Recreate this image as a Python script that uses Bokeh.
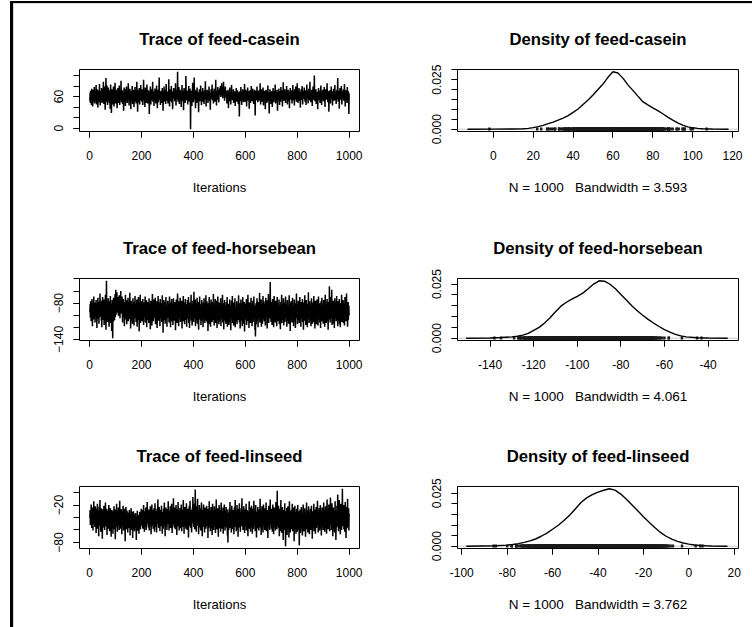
from bokeh.plotting import figure
from bokeh.layouts import gridplot, column
from bokeh.models import FixedTicker, Span, Range1d, PrintfTickFormatter
from bokeh.embed import file_html
from bokeh.resources import INLINE

# ---------------------------------------------------------------- data
# MCMC draws (1000 iterations) for the three feed contrasts
casein = [
    52, 67, 48, 71, 59, 63, 44, 75, 58, 62, 69, 41, 55, 73, 61, 50, 66, 78, 57, 47, 64, 70, 53, 60, 82,
    58, 45, 68, 74, 51, 63, 39, 66, 57, 72, 61, 49, 84, 56, 64, 43, 70, 59, 67, 52, 76, 62, 48, 55, 69,
    73, 57, 88, 61, 46, 65, 54, 79, 60, 35, 67, 71, 95, 58, 50, 63, 81, 56, 44, 69, 62, 77, 53, 66, 59,
    48, 72, 64, 37, 58, 83, 55, 61, 29, 68, 52, 74, 60, 45, 66, 57, 79, 63, 41, 70, 54, 62, 86, 58, 47,
    65, 59, 73, 50, 61, 38, 67, 56, 76, 62, 48, 69, 55, 81, 60, 44, 64, 71, 53, 58, 90, 63, 49, 66, 57,
    72, 46, 61, 68, 54, 33, 63, 77, 58, 51, 67, 60, 42, 74, 56, 65, 79, 52, 62, 48, 70, 57, 64, 85, 55,
    61, 43, 69, 58, 75, 50, 66, 62, 36, 71, 57, 64, 53, 80, 59, 46, 68, 61, 73, 55, 40, 63, 67, 51, 78,
    60, 56, 70, 47, 65, 62, 88, 54, 59, 31, 66, 72, 57, 49, 63, 76, 58, 45, 68, 61, 53, 82, 64, 57, 70,
    50, 63, 74, 59, 44, 67, 56, 92, 61, 52, 69, 58, 40, 65, 77, 54, 62, 48, 71, 60, 83, 55, 66, 47, 63,
    58, 72, 51, 64, 27, 60, 69, 56, 79, 62, 45, 67, 59, 74, 53, 66, 61, 88, 50, 57, 70, 63, 42, 68, 56,
    64, 75, 52, 61, 47, 69, 58, 81, 63, 55, 38, 66, 60, 73, 49, 62, 57, 96, 65, 54, 70, 59, 44, 67, 61,
    53, 71, 62, 48, 76, 58, 65, 33, 60, 68, 55, 79, 63, 50, 66, 57, 72, 46, 61, 84, 59, 64, 52, 69, 57,
    63, 47, 70, 58, 93, 55, 62, 41, 67, 60, 74, 52, 65, 57, 80, 49, 61, 68, 54, 36, 64, 71, 59, 76, 62,
    56, 69, 51, 66, 60, 85, 58, 43, 72, 63, 55, 67, 61, 107, 64, 50, 70, 57, 78, 62, 46, 66, 59, 73, 54,
    61, 68, 40, 65, 58, 82, 63, 52, 71, 57, 64, 34, 60, 76, 55, 69, 62, 48, 74, 59, 99, 66, 53, 61, 70,
    57, 64, 45, 72, 60, 55, 80, 63, 50, 67, 58, 75, 62, -2, 66, 53, 71, 59, 42, 68, 61, 86, 56, 64, 49,
    69, 58, 96, 62, 54, 73, 60, 38, 66, 57, 71, 63, 48, 77, 59, 65, 52, 68, 61, 30, 64, 56, 74, 60, 51,
    67, 59, 81, 55, 63, 44, 70, 58, 66, 62, 76, 50, 61, 57, 69, 46, 64, 72, 55, 60, 89, 58, 65, 41, 68,
    62, 54, 73, 59, 66, 48, 71, 60, 57, 79, 63, 52, 67, 58, 35, 65, 61, 74, 56, 69, 62, 83, 53, 64, 59,
    70, 47, 66, 61, 75, 57, 63, 50, 68, 60, 92, 55, 64, 43, 71, 58, 66, 62, 78, 54, 67, 60, 49, 73, 63,
    69, 76, 64, 80, 71, 59, 74, 67, 85, 62, 70, 78, 57, 73, 66, 88, 63, 75, 68, 52, 72, 65, 79, 60, 70,
    64, 58, 71, 47, 66, 60, 55, 73, 62, 38, 68, 57, 64, 51, 77, 61, 56, 69, 45, 63, 59, 82, 54, 66, 60,
    53, 67, 61, 74, 48, 63, 58, 70, 56, 65, 42, 69, 60, 55, 76, 62, 50, 67, 59, 72, 57, 64, 46, 68, 61,
    55, 22, 63, 70, 51, 66, 59, 78, 57, 62, 44, 69, 60, 53, 74, 58, 65, 49, 71, 61, 56, 84, 62, 50, 67,
    59, 73, 54, 65, 41, 68, 61, 57, 77, 63, 52, 70, 58, 66, 37, 62, 55, 72, 60, 48, 67, 63, 80, 56, 64,
    51, 69, 60, 75, 57, 63, 46, 68, 61, 55, 73, 62, 24, 65, 58, 71, 53, 66, 60, 79, 56, 63, 49, 70, 59,
    64, 57, 72, 52, 67, 61, 85, 58, 45, 69, 63, 55, 74, 60, 50, 66, 59, 77, 62, 43, 68, 57, 64, 71, 54,
    61, 36, 66, 59, 73, 56, 63, 48, 70, 60, 55, 81, 62, 51, 67, 58, 28, 65, 61, 74, 53, 68, 59, 46, 64,
    70, 57, 62, 40, 67, 59, 76, 54, 63, 49, 71, 60, 66, 55, 83, 61, 47, 69, 58, 64, 52, 73, 60, 33, 66,
    59, 68, 53, 75, 62, 57, 44, 70, 61, 65, 50, 78, 58, 63, 55, 72, 60, 41, 67, 59, 87, 56, 64, 52, 69,
    61, 74, 57, 66, 48, 71, 63, 55, 80, 60, 67, 45, 64, 58, 73, 62, 51, 69, 59, 38, 66, 61, 76, 56, 63,
    68, 54, 72, 60, 47, 65, 58, 82, 62, 53, 70, 57, 64, 43, 74, 61, 66, 55, 79, 59, 63, 50, 68, 60, 85,
    57, 65, 48, 71, 62, 56, 76, 60, 52, 67, 63, 39, 69, 58, 74, 61, 54, 66, 80, 59, 45, 70, 63, 57, 68,
    62, 77, 55, 64, 50, 72, 60, 66, 44, 69, 58, 83, 63, 56, 71, 61, 47, 67, 59, 75, 53, 65, 62, 88, 57,
    64, 49, 70, 60, 56, 73, 62, 42, 68, 58, 79, 63, 54, 66, 61, 100, 59, 51, 71, 65, 57, 74, 46, 67, 60,
    55, 69, 62, 36, 66, 58, 76, 61, 53, 70, 59, 64, 48, 72, 60, 81, 57, 65, 44, 68, 62, 55, 73, 59, 66,
    51, 67, 61, 78, 56, 63, 40, 69, 58, 74, 62, 54, 66, 60, 85, 57, 64, 49, 71, 59, 65, 31, 68, 61, 56,
    72, 60, 47, 66, 62, 79, 55, 68, 58, 63, 43, 70, 61, 57, 75, 64, 52, 67, 59, 82, 60, 53, 69, 62, 46,
    65, 58, 73, 61, 55, 95, 63, 50, 68, 59, 71, 37, 64, 57, 76, 62, 54, 66, 60, 80, 58, 45, 70, 63, 56,
    67, 61, 74, 52, 65, 59, 84, 57, 63, 41, 69, 60, 72, 55, 66, 62, 48, 78, 59, 64, 53, 70, 61, 27, 66,
]

horsebean = [
    -95, -82, -104, -77, -91, -110, -86, -99, -73, -93, -118, -88, -80, -101, -94, -69, -107, -85, -97, -79, -112, -90, -84, -102, -75,
    -96, -87, -121, -81, -100, -92, -71, -106, -89, -83, -114, -78, -98, -91, -64, -103, -86, -95, -76, -109, -88, -120, -82, -94, -70,
    -99, -85, -108, -93, -74, -116, -90, -80, -102, -87, -66, -97, -124, -83, -43, -105, -92, -78, -111, -89, -96, -72, -101, -84, -119,
    -91, -77, -106, -95, -68, -113, -88, -100, -81, -126, -93, -75, -104, -138, -86, -97, -71, -110, -90, -82, -108, -94, -65, -103, -85,
    -58, -99, -79, -92, -62, -88, -74, -96, -83, -70, -101, -77, -89, -67, -94, -81, -105, -73, -86, -60, -97, -84, -76, -91, -69,
    -87, -112, -80, -95, -73, -103, -90, -84, -118, -78, -98, -92, -66, -107, -86, -100, -75, -115, -89, -81, -104, -94, -71, -110, -88,
    -97, -79, -106, -91, -63, -101, -85, -122, -93, -76, -109, -87, -99, -82, -114, -90, -72, -104, -96, -84, -117, -78, -100, -89, -68,
    -105, -92, -81, -111, -86, -98, -74, -119, -90, -83, -102, -95, -70, -108, -87, -127, -80, -97, -91, -66, -113, -85, -101, -77, -94,
    -88, -110, -82, -99, -73, -106, -92, -116, -84, -96, -79, -103, -89, -69, -112, -86, -100, -93, -75, -120, -81, -97, -90, -108, -78,
    -95, -85, -113, -72, -102, -88, -98, -81, -123, -91, -76, -107, -94, -83, -117, -87, -65, -101, -96, -80, -110, -89, -74, -104, -92,
    -84, -99, -71, -115, -90, -82, -106, -95, -77, -121, -86, -100, -93, -68, -109, -88, -79, -103, -97, -85, -118, -73, -96, -91, -105,
    -80, -94, -111, -87, -67, -102, -92, -129, -83, -98, -75, -108, -89, -96, -78, -114, -86, -101, -70, -106, -93, -84, -119, -90, -99,
    -76, -104, -88, -95, -82, -112, -91, -69, -107, -97, -85, -120, -79, -100, -93, -73, -110, -87, -98, -81, -116, -90, -72, -103, -94,
    -86, -109, -78, -99, -91, -125, -84, -102, -74, -96, -89, -113, -80, -64, -106, -93, -83, -118, -97, -77, -104, -88, -100, -71, -111,
    -92, -85, -107, -95, -76, -122, -89, -101, -81, -98, -68, -110, -87, -94, -79, -115, -90, -103, -73, -97, -84, -108, -92, -119, -82,
    -100, -75, -106, -88, -96, -70, -113, -91, -84, -121, -94, -79, -104, -87, -99, -66, -109, -93, -82, -117, -90, -101, -76, -97, -86,
    -111, -61, -95, -83, -105, -92, -74, -118, -89, -98, -80, -108, -94, -71, -114, -87, -102, -91, -78, -124, -85, -99, -93, -69, -107,
    -88, -97, -82, -116, -90, -101, -75, -110, -86, -95, -79, -120, -92, -84, -105, -72, -98, -89, -113, -81, -103, -94, -67, -109, -87,
    -99, -77, -112, -91, -84, -126, -95, -80, -106, -88, -70, -115, -93, -100, -83, -119, -90, -74, -104, -96, -85, -111, -89, -78, -102,
    -94, -65, -108, -86, -117, -92, -81, -99, -73, -113, -90, -104, -84, -97, -76, -121, -88, -101, -69, -107, -95, -82, -115, -91, -79,
    -103, -87, -110, -93, -72, -118, -89, -98, -83, -106, -94, -66, -112, -86, -100, -80, -123, -91, -96, -75, -109, -88, -102, -84, -114,
    -92, -78, -105, -97, -70, -119, -90, -85, -108, -95, -81, -116, -87, -101, -74, -111, -93, -83, -125, -89, -99, -76, -106, -94, -68,
    -113, -88, -100, -79, -117, -91, -84, -107, -96, -72, -120, -90, -103, -86, -110, -94, -77, -115, -89, -98, -82, -108, -93, -67, -104,
    -87, -112, -95, -80, -122, -91, -99, -74, -109, -88, -102, -83, -118, -92, -70, -106, -96, -85, -114, -90, -78, -127, -93, -101, -81,
    -107, -89, -97, -73, -116, -94, -84, -110, -90, -66, -104, -99, -86, -121, -92, -79, -108, -95, -83, -113, -88, -71, -103, -97, -82,
    -118, -91, -100, -76, -111, -87, -96, -69, -106, -93, -84, -124, -90, -135, -102, -80, -115, -94, -88, -72, -109, -98, -85, -120, -92,
    -78, -104, -89, -97, -63, -112, -91, -83, -107, -95, -74, -119, -88, -101, -81, -114, -93, -68, -106, -90, -99, -77, -110, -86, -96,
    -82, -117, -92, -71, -103, -89, -98, -75, -122, -94, -85, -108, -90, -65, -113, -97, -80, -105, -91, -84, -45, -100, -88, -111, -78,
    -95, -86, -116, -92, -73, -104, -99, -81, -120, -89, -68, -107, -94, -83, -112, -90, -76, -101, -97, -85, -118, -88, -70, -106, -93,
    -80, -110, -91, -98, -74, -115, -87, -102, -84, -123, -95, -78, -106, -89, -66, -113, -93, -99, -82, -108, -90, -72, -117, -96, -86,
    -103, -79, -111, -92, -69, -105, -88, -97, -83, -119, -94, -75, -109, -90, -101, -85, -114, -91, -67, -104, -96, -81, -126, -89, -98,
    -77, -107, -93, -86, -112, -90, -71, -103, -95, -84, -118, -88, -99, -74, -110, -92, -80, -121, -96, -87, -105, -64, -100, -91, -83,
    -115, -89, -97, -76, -108, -94, -85, -113, -90, -70, -106, -98, -82, -119, -92, -78, -104, -88, -101, -73, -111, -95, -86, -124, -91,
    -79, -102, -96, -67, -109, -90, -84, -116, -93, -75, -107, -99, -87, -120, -91, -81, -105, -62, -97, -89, -113, -94, -77, -110, -88,
    -100, -83, -118, -92, -72, -106, -95, -86, -114, -90, -79, -103, -97, -68, -111, -89, -84, -122, -93, -76, -108, -98, -87, -115, -91,
    -74, -104, -90, -82, -117, -95, -69, -107, -88, -100, -80, -112, -93, -85, -121, -91, -77, -105, -96, -71, -110, -89, -99, -83, -114,
    -92, -75, -106, -97, -86, -119, -90, -66, -103, -94, -81, -113, -88, -101, -73, -109, -95, -84, -124, -91, -78, -107, -98, -52, -100,
    -87, -112, -93, -70, -105, -89, -96, -58, -116, -92, -83, -108, -99, -76, -114, -90, -85, -121, -94, -72, -104, -88, -101, -79, -110,
    -91, -68, -106, -97, -84, -118, -93, -77, -109, -89, -100, -73, -115, -92, -86, -120, -95, -80, -103, -90, -66, -111, -98, -83, -107,
    -94, -75, -113, -88, -101, -81, -117, -92, -70, -105, -96, -85, -110, -90, -64, -104, -99, -87, -119, -93, -78, -108, -95, -84, -100,
]

linseed = [
    -41, -28, -52, -33, -45, -19, -38, -57, -30, -47, -24, -36, -61, -32, -43, -14, -49, -35, -27, -55, -39, -22, -46, -31, -65,
    -37, -26, -50, -42, -18, -58, -34, -44, -29, -70, -40, -23, -53, -36, -12, -48, -31, -63, -38, -25, -51, -44, -33, -74, -39,
    -27, -46, -35, -56, -21, -42, -30, -60, -37, -49, -16, -44, -32, -54, -40, -26, -68, -36, -47, -29, -58, -34, -43, -20, -51,
    -38, -62, -31, -45, -25, -53, -39, -71, -33, -48, -28, -57, -41, -36, -66, -30, -50, -43, -22, -59, -35, -46, -27, -75, -40,
    -32, -55, -44, -18, -49, -37, -63, -29, -42, -52, -24, -47, -34, -60, -39, -13, -45, -31, -58, -36, -50, -27, -43, -67, -38,
    -54, -30, -46, -21, -41, -61, -35, -48, -26, -56, -40, -78, -33, -44, -23, -52, -37, -59, -29, -45, -39, -64, -32, -50, -42,
    -36, -57, -28, -47, -38, -69, -34, -53, -41, -25, -60, -43, -31, -55, -46, -73, -37, -49, -30, -58, -44, -35, -62, -40, -51,
    -47, -33, -56, -42, -76, -38, -54, -45, -29, -61, -48, -36, -52, -43, -66, -39, -57, -31, -50, -44, -59, -35, -47, -26, -53,
    -41, -28, -49, -37, -58, -33, -45, -20, -52, -39, -63, -30, -46, -35, -55, -24, -43, -60, -32, -48, -38, -15, -50, -42, -29,
    -56, -36, -44, -27, -61, -40, -33, -52, -22, -47, -38, -67, -31, -45, -19, -53, -37, -42, -28, -58, -35, -49, -25, -44, -63,
    -34, -17, -48, -39, -55, -30, -43, -64, -36, -26, -51, -41, -11, -46, -33, -57, -38, -23, -50, -40, -62, -32, -45, -28, -54,
    -37, -21, -49, -42, -66, -31, -44, -35, -58, -26, -47, -39, -16, -52, -36, -70, -33, -45, -24, -55, -40, -30, -60, -43, -27,
    -50, -38, -14, -46, -34, -61, -41, -29, -53, -37, -22, -57, -44, -32, -48, -18, -39, -65, -35, -51, -28, -43, -9, -47, -36,
    -56, -31, -42, -24, -59, -38, -46, -20, -52, -34, -68, -40, -27, -49, -37, -15, -54, -43, -30, -61, -36, -45, -25, -57, -41,
    -33, -50, -19, -44, -62, -35, -47, -28, -55, -39, -12, -48, -36, -66, -31, -43, -23, -53, -38, -29, -58, -42, -17, -49, -34,
    -60, -37, -26, -51, -40, -72, -32, -45, -21, -54, -39, -13, -47, -35, -57, -28, -44, -64, -33, -49, -24, -41, -7, -46, -36,
    -55, -18, -43, -30, -59, -38, 5, -27, -50, -34, -63, -40, -22, -48, -36, -10, -53, -42, -29, -67, -37, -45, -20, -56, -33,
    -47, -25, -61, -39, -44, -16, -52, -35, -70, -41, -28, -55, -38, -19, -49, -43, -31, -64, -36, -24, -51, -40, -58, -30, -46,
    -21, -54, -37, -48, -26, -73, -42, -33, -56, -39, -14, -50, -45, -29, -62, -35, -47, -23, -57, -41, -32, -68, -38, -18, -52,
    -44, -30, -60, -36, -49, -22, -55, -40, -27, -65, -37, -46, -11, -53, -34, -59, -42, -25, -50, -38, -71, -31, -45, -20, -48,
    -39, -57, -28, -43, -63, -35, -16, -51, -41, -30, -58, -37, -47, -24, -66, -40, -33, -54, -19, -45, -36, -61, -29, -49, -42,
    -23, -56, -38, -44, -27, -69, -35, -80, -48, -32, -60, -40, -26, -52, -43, -15, -57, -37, -46, -31, -64, -39, -21, -50, -34,
    -59, -41, -28, -53, -36, -67, -45, -24, -49, -38, -12, -55, -42, -30, -62, -35, -47, -20, -58, -40, -33, -71, -37, -26, -51,
    -44, -17, -56, -39, -31, -63, -43, -48, -25, -54, -36, -9, -50, -41, -29, -60, -38, -46, -22, -57, -35, -65, -42, -27, -53,
    -33, -48, -18, -61, -40, -45, -28, -55, -37, -70, -43, -30, -52, -39, -14, -58, -36, -47, -24, -63, -41, -32, -56, -21, -49,
    -38, -66, -34, -44, -26, -59, -40, -13, -53, -37, -48, -29, -62, -42, -20, -55, -35, -72, -45, -31, -50, -39, -23, -57, -41,
    -33, -61, -46, -27, -52, -38, -10, -56, -43, -30, -68, -36, -49, -22, -58, -40, -34, -64, -44, -19, -53, -37, -47, -25, -60,
    -39, -31, -55, -42, -16, -62, -36, -48, -28, -57, -41, -73, -35, -45, -21, -54, -38, -30, -60, -43, -11, -51, -37, -46, -26,
    -58, -40, -33, -63, -44, -19, -52, -37, -67, -34, -47, -24, -56, -41, -29, -61, -36, -15, -50, -42, -27, -59, 3, -45, -32,
    -54, -38, -21, -57, -43, -70, -35, -48, -26, -62, -40, -12, -53, -37, -31, -65, -44, -23, -58, -39, -76, -34, -49, -28, -60,
    -42, -17, -55, -36, -86, -47, -30, -61, -40, -25, -68, -38, -51, -22, -57, -44, -33, -72, -39, -14, -54, -41, -64, -29, -48,
    -36, -59, -27, -50, -43, -18, -62, -37, -46, -24, -56, -40, -78, -34, -49, -21, -58, -42, -31, -66, -38, -53, -26, -45, -63,
    -35, -20, -52, -41, -60, -30, -47, -85, -38, -55, -27, -44, -65, -36, -50, -23, -58, -40, -33, -69, -43, -48, -19, -54, -37,
    -62, -31, -46, -25, -57, -39, -71, -34, -51, -42, -16, -59, -38, -45, -28, -64, -41, -53, -22, -49, -36, -67, -32, -56, -44,
    -26, -60, -40, -47, -21, -55, -37, -74, -43, -30, -58, -39, -50, -18, -62, -42, -33, -54, -27, -66, -41, -46, -23, -57, -35,
    -49, -38, -13, -52, -44, -64, -31, -56, -40, -25, -61, -36, -47, -20, -58, -42, -29, -69, -37, -51, -24, -55, -43, -32, -60,
    -39, -16, -53, -45, -28, -63, -34, -48, -22, -57, -41, -30, -66, -38, -11, -50, -43, -26, -59, -36, -47, -19, -54, -40, -62,
    -33, -46, -8, -52, -39, -27, -60, -42, -17, -55, -37, -70, -44, -24, -49, -35, -58, -29, -64, -41, -14, -51, -38, -76, -45,
    -30, -56, -21, -48, -40, -3, -53, -36, -62, -27, -44, -12, -57, -39, -33, -67, -43, -18, -50, -35, -60, -26, -47, 6, -41,
    -54, -31, -46, -20, -59, -38, -28, -63, -42, -15, -52, -37, -73, -33, -48, -23, -57, -40, -10, -55, -36, -45, -25, -61, -34,
]

# kernel density estimates (bandwidths reported by the sampler summary)
bandwidths = [3.593, 4.061, 3.762]

casein_dens_x = [-13, 0, 10, 15, 17.5, 20, 22.5, 25, 27.5, 30, 32.5, 35, 37.5, 40, 42.5, 45, 47.5, 50, 52.5,
                 55, 57.5, 60, 62.5, 65, 67.5, 70, 72.5, 75, 77.5, 80, 82.5, 85, 87.5, 90, 92.5, 95, 97.5,
                 100, 102.5, 105, 110, 118]
casein_dens_y = [0.0, 0.00005, 0.0001, 0.0002, 0.0004, 0.0008, 0.0013, 0.0019, 0.0028, 0.0036, 0.0046, 0.0056,
                 0.0069, 0.0085, 0.0102, 0.0125, 0.0148, 0.0173, 0.0201, 0.0228, 0.0262, 0.0290, 0.0284, 0.0258,
                 0.0224, 0.0196, 0.0167, 0.0139, 0.0123, 0.0108, 0.0094, 0.0078, 0.0061, 0.0046, 0.0032, 0.0021,
                 0.0012, 0.0007, 0.0004, 0.0002, 0.0001, 0.0]

horsebean_dens_x = [-151, -140, -135, -130, -127.5, -125, -122.5, -120, -117.5, -115, -112.5, -110, -107.5,
                    -105, -102.5, -100, -97.5, -95, -92.5, -90, -87.5, -85, -82.5, -80, -77.5, -75, -72.5,
                    -70, -67.5, -65, -62.5, -60, -57.5, -55, -52.5, -50, -45, -40, -31]
horsebean_dens_y = [0.0, 0.0001, 0.0003, 0.0006, 0.0009, 0.0014, 0.0022, 0.0036, 0.0050, 0.0070, 0.0094, 0.0122,
                    0.0148, 0.0166, 0.0180, 0.0193, 0.0208, 0.0228, 0.0250, 0.0265, 0.0263, 0.0249, 0.0228,
                    0.0202, 0.0176, 0.0150, 0.0127, 0.0106, 0.0087, 0.0070, 0.0054, 0.0040, 0.0028, 0.0018,
                    0.0011, 0.0006, 0.0002, 0.0001, 0.0]

linseed_dens_x = [-98, -85, -80, -77.5, -75, -72.5, -70, -67.5, -65, -62.5, -60, -57.5, -55, -52.5, -50, -47.5,
                  -45, -42.5, -40, -37.5, -35, -32.5, -30, -27.5, -25, -22.5, -20, -17.5, -15, -12.5, -10,
                  -7.5, -5, -2.5, 0, 2.5, 5, 7.5, 10, 17]
linseed_dens_y = [0.0, 0.0002, 0.0005, 0.0008, 0.0012, 0.0018, 0.0025, 0.0034, 0.0047, 0.0062, 0.0080, 0.0099,
                  0.0121, 0.0146, 0.0176, 0.0206, 0.0228, 0.0243, 0.0255, 0.0264, 0.0271, 0.0265, 0.0246,
                  0.0222, 0.0195, 0.0167, 0.0139, 0.0113, 0.0088, 0.0065, 0.0047, 0.0033, 0.0023, 0.0015,
                  0.0010, 0.0006, 0.0004, 0.0002, 0.0001, 0.0]

names = ["feed-casein", "feed-horsebean", "feed-linseed"]

# axis ticks: every tick mark, and the subset that carries a label
trace_x_ticks = [0, 200, 400, 600, 800, 1000]
trace_y_ticks = [[0, 20, 40, 60, 80, 100], [-140, -120, -100, -80, -60, -40], [-80, -60, -40, -20, 0]]
trace_y_labelled = [[0, 60], [-140, -80], [-80, -20]]
dens_x_ticks = [[0, 20, 40, 60, 80, 100, 120], [-140, -120, -100, -80, -60, -40], [-100, -80, -60, -40, -20, 0, 20]]
dens_y_ticks = [0.0, 0.005, 0.010, 0.015, 0.020, 0.025, 0.030]
dens_y_labelled = [0.0, 0.025]

# ---------------------------------------------------------------- styling
FONT = "Liberation Sans"
ROW_BOTTOM = [82, 81, 79]


def padded(lo, hi):
    pad = 0.04 * (hi - lo)
    return Range1d(lo - pad, hi + pad)


def r_axes(p, x_major, x_minor, y_major, y_minor, y_fmt=None):
    p.outline_line_color = "black"
    p.outline_line_width = 1
    p.xgrid.visible = False
    p.ygrid.visible = False
    p.background_fill_color = "white"
    p.border_fill_color = "white"
    for ax in (p.xaxis[0], p.yaxis[0]):
        ax.axis_line_color = None
        ax.major_tick_in = 0
        ax.major_tick_out = 6
        ax.minor_tick_in = 0
        ax.minor_tick_out = 6
        ax.major_tick_line_color = "black"
        ax.minor_tick_line_color = "black"
        ax.major_label_text_font = FONT
        ax.major_label_text_font_size = "12px"
        ax.major_label_text_color = "black"
        ax.axis_label_text_font = FONT
        ax.axis_label_text_font_size = "13px"
        ax.axis_label_text_font_style = "normal"
        ax.axis_label_text_color = "black"
    p.xaxis.ticker = FixedTicker(ticks=x_major, minor_ticks=x_minor)
    p.yaxis.ticker = FixedTicker(ticks=y_major, minor_ticks=y_minor)
    p.xaxis.formatter = PrintfTickFormatter(format="%d")
    if y_fmt:
        p.yaxis.formatter = PrintfTickFormatter(format=y_fmt)
    p.xaxis.major_label_standoff = 13
    p.xaxis.axis_label_standoff = 17
    p.yaxis.major_label_orientation = "vertical"
    p.yaxis.major_label_standoff = 10
    p.title.text_font = FONT
    p.title.text_font_size = "16.7px"
    p.title.text_font_style = "bold"
    p.title.text_color = "black"
    p.title.align = "center"
    p.title.standoff = 42


def make_trace(i, draws):
    iters = list(range(1, len(draws) + 1))
    p = figure(frame_width=280, frame_height=62, min_border_left=65, min_border_right=17,
               min_border_top=65, min_border_bottom=ROW_BOTTOM[i],
               x_range=padded(iters[0], iters[-1]), y_range=padded(min(draws), max(draws)),
               title="Trace of " + names[i], output_backend="svg", toolbar_location=None)
    p.line(iters, draws, line_color="black", line_width=1.5)
    r_axes(p, trace_x_ticks, trace_x_ticks, trace_y_labelled[i], trace_y_ticks[i])
    p.xaxis.axis_label = "Iterations"
    return p


def make_density(i, draws, dx, dy):
    bw = bandwidths[i]
    peak = max(dy)
    p = figure(frame_width=281, frame_height=62, min_border_left=81, min_border_right=14,
               min_border_top=65, min_border_bottom=ROW_BOTTOM[i],
               x_range=padded(min(draws) - 3 * bw, max(draws) + 3 * bw), y_range=padded(0, peak),
               title="Density of " + names[i], output_backend="svg", toolbar_location=None)
    p.add_layout(Span(location=0, dimension="width", line_color="#c8c8c8", line_width=1, level="underlay"))
    # observations shown along the x-axis
    p.segment(x0=draws, y0=[0] * len(draws), x1=draws, y1=[peak / 100] * len(draws),
              line_color="#1a1a1a", line_width=2.4, line_cap="square")
    p.line(dx, dy, line_color="black", line_width=1.4)
    r_axes(p, dens_x_ticks[i], dens_x_ticks[i], dens_y_labelled, dens_y_ticks, y_fmt="%.3f")
    p.xaxis.axis_label = "N = %d\u00a0\u00a0\u00a0Bandwidth = %s" % (len(draws), "%.4g" % bw)
    p.xaxis.axis_label_text_font_size = "13.5px"
    return p


draws_all = [casein, horsebean, linseed]
dens_all = [(casein_dens_x, casein_dens_y), (horsebean_dens_x, horsebean_dens_y), (linseed_dens_x, linseed_dens_y)]

rows = []
for i in range(3):
    rows.append([make_trace(i, draws_all[i]), make_density(i, draws_all[i], *dens_all[i])])

grid = gridplot(rows, toolbar_location=None)
grid.styles = {"border-left": "1px solid #dadada", "border-top": "1px solid #dadada"}
page = column(grid, styles={"margin-left": "10px", "margin-top": "1px",
                            "border-left": "3px solid black", "border-top": "2px solid black"})

open("out.html", "w").write(file_html(page, INLINE))
